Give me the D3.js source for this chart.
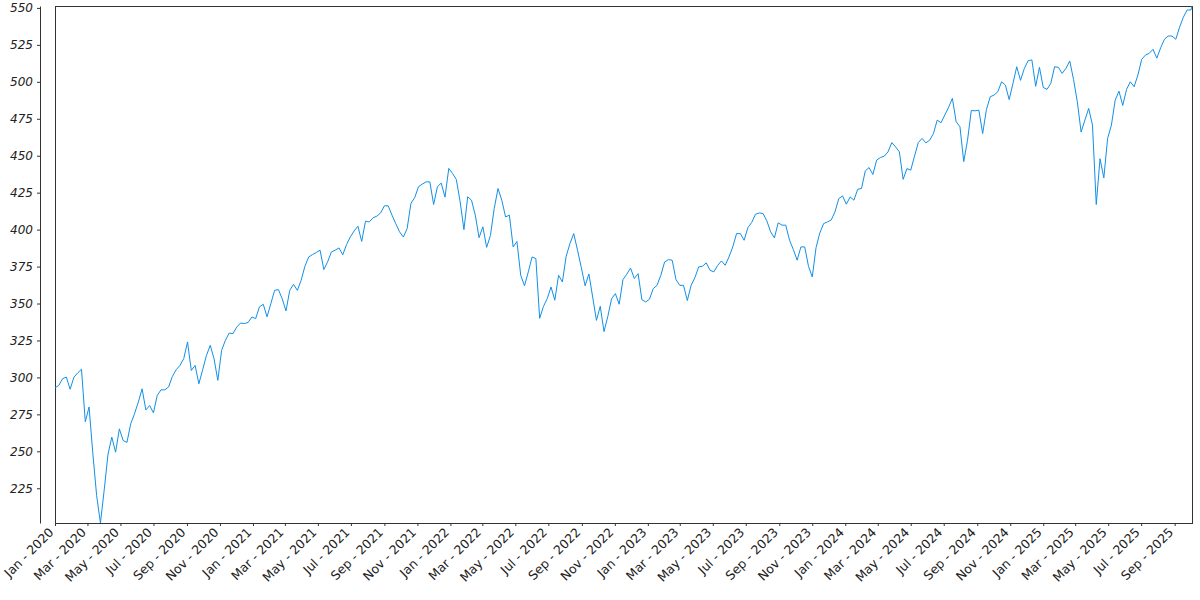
<!DOCTYPE html>
<html>
<head>
<meta charset="utf-8">
<script src="https://cdn.jsdelivr.net/npm/d3@7"></script>
<style>
  html, body { margin: 0; padding: 0; background: #fff; }
  svg { display: block; }
</style>
</head>
<body>
<svg id="chart" width="1200" height="600"></svg>
<script>
// ---- data (weekly readings, starting 2020-01-01) ----
const startDate = "2020-01-01";
const stepDays = 7;
const weeklyClose = [
  293.0, 294.6, 299.1, 300.2, 292.0, 300.2, 303.0, 305.5, 270.0, 280.0,
  248.3, 220.0, 201.5, 224.0, 248.0, 259.6, 249.4, 265.2, 257.3, 256.0,
  268.6, 275.4, 283.3, 292.3, 278.0, 281.0, 276.0, 287.8, 291.6, 291.6,
  293.5, 300.7, 305.2, 308.1, 312.7, 324.0, 304.7, 308.1, 295.7, 305.2,
  314.9, 321.7, 312.7, 298.0, 318.3, 325.1, 330.0, 329.6, 334.1, 336.8,
  336.4, 337.2, 340.9, 339.8, 347.7, 349.5, 341.0, 349.9, 358.9, 359.4,
  353.3, 345.0, 358.9, 363.0, 358.9, 365.7, 375.2, 381.5, 383.1, 384.5,
  386.1, 373.0, 378.2, 384.9, 386.1, 387.6, 383.0, 389.9, 395.1, 399.1,
  402.3, 392.0, 405.7, 405.2, 408.0, 409.1, 411.3, 416.1, 416.1, 409.8,
  404.0, 398.5, 395.0, 400.7, 417.7, 421.7, 429.0, 430.8, 432.3, 432.3,
  417.0, 429.0, 431.5, 422.0, 441.4, 438.0, 433.9, 418.8, 400.0, 422.2,
  419.9, 409.8, 394.6, 401.9, 388.0, 396.0, 414.3, 427.8, 419.9, 408.6,
  409.8, 388.3, 392.0, 369.1, 362.0, 371.4, 381.5, 380.4, 340.0, 348.0,
  353.3, 361.2, 352.2, 369.1, 364.6, 382.0, 390.6, 397.3, 386.1, 374.3,
  362.0, 370.0, 354.4, 338.6, 348.1, 331.0, 341.3, 353.3, 356.7, 349.5,
  366.2, 369.8, 374.0, 366.9, 370.2, 352.6, 351.1, 352.9, 360.1, 362.3,
  369.1, 378.1, 379.7, 379.3, 366.2, 362.3, 362.3, 352.0, 362.3, 367.5,
  374.8, 375.2, 377.5, 372.5, 371.4, 375.7, 378.8, 375.9, 381.5, 388.3,
  397.3, 397.3, 392.8, 401.4, 404.8, 410.4, 411.3, 410.9, 405.9, 398.5,
  394.4, 404.6, 403.0, 403.0, 392.8, 386.5, 379.3, 388.3, 388.3, 375.2,
  368.0, 387.9, 397.8, 404.1, 405.2, 406.5, 412.0, 421.0, 422.8, 417.2,
  422.1, 419.9, 427.3, 427.8, 439.7, 442.0, 437.3, 447.0, 448.8, 449.7,
  452.6, 458.9, 456.0, 452.6, 434.0, 441.3, 440.2, 449.7, 458.9, 461.7,
  458.7, 460.5, 465.0, 474.1, 472.3, 477.5, 482.7, 488.8, 473.0, 469.6,
  446.0, 460.5, 480.6, 480.4, 480.8, 465.0, 481.3, 489.9, 491.0, 493.3,
  500.0, 497.8, 488.0, 498.9, 510.2, 501.0, 509.0, 514.3, 514.8, 497.0,
  509.8, 496.2, 494.9, 499.0, 510.2, 509.8, 505.7, 509.1, 514.1, 501.6,
  486.5, 466.0, 474.1, 482.0, 470.7, 417.0, 448.0, 435.0, 461.7, 470.7,
  487.6, 493.7, 484.0, 494.9, 500.0, 496.7, 504.6, 515.2, 518.1, 519.3,
  522.0, 516.0, 523.0, 528.8, 531.0, 531.0, 528.8, 536.9, 543.7, 548.6,
  548.6
];
const lastDate = "2025-10-03";
const lastClose = 551.3;
const yTickValues = [225, 250, 275, 300, 325, 350, 375, 400, 425, 450, 475, 500, 525, 550];
const xTickFormat = "%b - %Y";

// ---- build ----
const parse = d3.timeParse("%Y-%m-%d");
const start = parse(startDate);
const data = weeklyClose.map((v, i) => ({ date: d3.timeDay.offset(start, i * stepDays), value: v }));
data.push({ date: parse(lastDate), value: lastClose });

const plotLeft = 55, plotRight = 1192, plotTop = 6, plotBottom = 523;
const yAxisX = 40;

const svg = d3.select("#chart");

const x = d3.scaleTime()
  .domain(d3.extent(data, d => d.date))
  .range([plotLeft, plotRight]);
const y = d3.scaleLinear()
  .domain(d3.extent(data, d => d.value))
  .range([plotBottom, plotTop]);

// frame
svg.append("rect")
  .attr("x", plotLeft + 0.5).attr("y", plotTop + 0.5)
  .attr("width", plotRight - plotLeft).attr("height", plotBottom - plotTop)
  .attr("fill", "none").attr("stroke", "#333").attr("stroke-width", 1);

// line
svg.append("path")
  .datum(data)
  .attr("fill", "none")
  .attr("stroke", "#1190e6")
  .attr("stroke-width", 1)
  .attr("stroke-linejoin", "round")
  .attr("d", d3.line().x(d => x(d.date)).y(d => y(d.value)));

// y axis (offset to the left)
const gy = svg.append("g")
  .attr("transform", `translate(${yAxisX},0)`)
  .call(d3.axisLeft(y).tickValues(yTickValues).tickSize(3).tickSizeOuter(0).tickPadding(4));
gy.select(".domain").attr("stroke", "#333");
gy.selectAll(".tick line").attr("stroke", "#333");
gy.selectAll("text")
  .attr("fill", "#222")
  .style("font-family", "'DejaVu Sans', sans-serif")
  .style("font-style", "italic")
  .style("font-size", "12px");

// x axis
const gx = svg.append("g")
  .attr("transform", `translate(0,${plotBottom})`)
  .call(d3.axisBottom(x).ticks(d3.timeMonth.every(2)).tickFormat(d3.timeFormat(xTickFormat)).tickSize(3).tickSizeOuter(0));
gx.select(".domain").attr("stroke", "#333");
gx.selectAll(".tick line").attr("stroke", "#333");
gx.selectAll("text")
  .attr("fill", "#222")
  .attr("x", 0).attr("y", 0).attr("dy", 0)
  .attr("text-anchor", "end")
  .attr("transform", "translate(-1,10) rotate(-45)")
  .style("font-family", "'DejaVu Sans', sans-serif")
  .style("font-size", "12.5px");
</script>
</body>
</html>
